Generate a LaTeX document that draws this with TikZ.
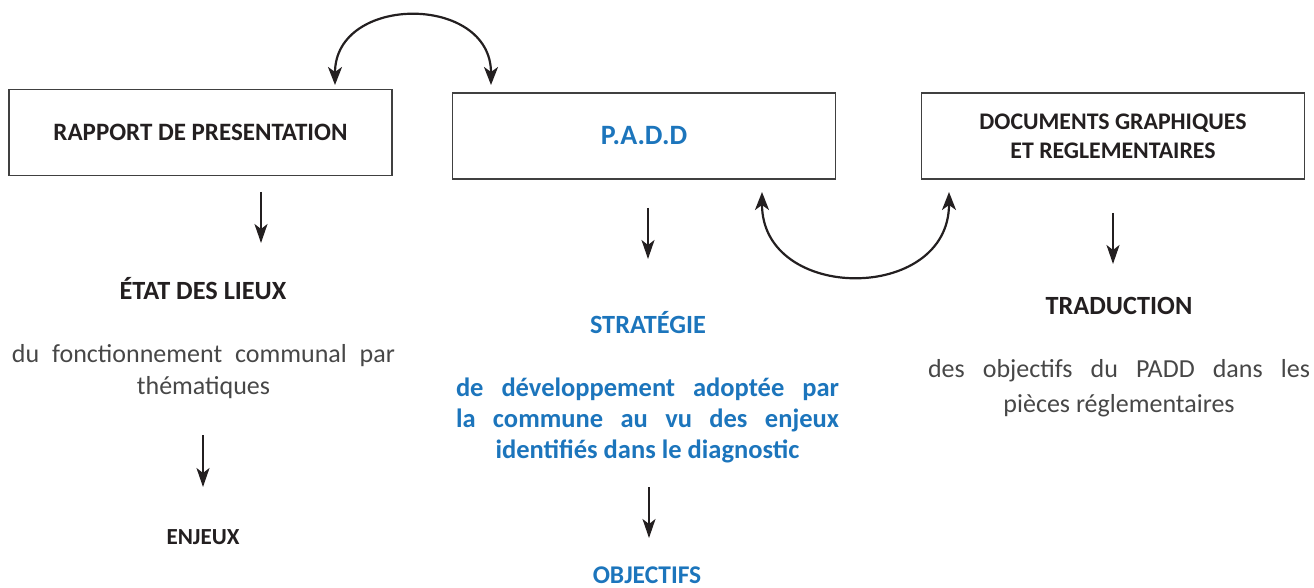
\documentclass[tikz,border=0pt]{standalone}
\usepackage{fontspec}
\setmainfont{Carlito}
\usetikzlibrary{arrows.meta}
\definecolor{padblue}{HTML}{1C75BC}
\definecolor{ink}{HTML}{231F20}
\definecolor{bodygray}{HTML}{474747}
\definecolor{boxline}{HTML}{404040}
\tikzset{
  box/.style={draw=boxline, line width=1.3pt, minimum width=383pt, minimum height=86pt, inner sep=0pt, align=center, text=ink},
  head/.style={anchor=base, text=ink, font=\bfseries\fontsize{26.3}{30}\selectfont, inner sep=0pt},
  bluehead/.style={head, text=padblue},
  bodytxt/.style={anchor=base, text=bodygray, inner sep=0pt, font=\fontsize{26}{30}\selectfont},
  bluetxt/.style={anchor=base, text=padblue, inner sep=0pt, font=\bfseries\fontsize{26.5}{30}\selectfont},
  downarrow/.style={draw=ink, line width=1.8pt, -{Stealth[length=19pt, width=13pt, inset=5pt]}},
  bendarrow/.style={draw=ink, line width=2.2pt, {Stealth[length=18pt, width=14pt, inset=5pt]}-{Stealth[length=18pt, width=14pt, inset=5pt]}}
}
\begin{document}
\begin{tikzpicture}[x=1pt, y=-1pt]
\useasboundingbox (0,0) rectangle (1314,588);
% boxes
\node[box, font=\bfseries\fontsize{25}{29}\selectfont] (rp) at (200.5,132.5) {RAPPORT DE PRESENTATION};
\node[box, text=padblue, font=\bfseries\fontsize{28}{32}\selectfont] (padd) at (644,136) {P.A.D.D};
\node[box, font=\bfseries\fontsize{23.8}{29}\selectfont] (docs) at (1113,136) {DOCUMENTS GRAPHIQUES\\ET REGLEMENTAIRES};
% left column
\node[head] (etat) at (203,299) {ÉTAT DES LIEUX};
\node[bodytxt] (etatA) at (203.5,362) {\makebox[383pt][s]{du fonctionnement communal par}};
\node[bodytxt] (etatB) at (203.5,394) {thématiques};
\node[head, font=\bfseries\fontsize{23}{28}\selectfont] (enjeux) at (203,544) {ENJEUX};
% middle column
\node[bluehead] (strat) at (648,333) {STRATÉGIE};
\node[bluetxt] (stratA) at (647.5,396) {\makebox[383pt][s]{de développement adoptée par}};
\node[bluetxt] (stratB) at (647.5,427) {\makebox[383pt][s]{la commune au vu des enjeux}};
\node[bluetxt] (stratC) at (647.5,458) {identifiés dans le diagnostic};
\node[bluehead, font=\bfseries\fontsize{25.5}{28}\selectfont] (obj) at (647,583) {OBJECTIFS};
% right column
\node[head] (trad) at (1119,314) {TRADUCTION};
\node[bodytxt] (tradA) at (1119,377) {\makebox[382pt][s]{des objectifs du PADD dans les}};
\node[bodytxt] (tradB) at (1119,412) {pièces réglementaires};
% arrow end points
\coordinate (d1s) at (261,192); \coordinate (d1e) at (261,243);
\coordinate (d2s) at (648,208); \coordinate (d2e) at (648,259);
\coordinate (d3s) at (1113,213); \coordinate (d3e) at (1113,264);
\coordinate (d4s) at (203,435); \coordinate (d4e) at (203,487);
\coordinate (d5s) at (649,487); \coordinate (d5e) at (649,538);
\coordinate (t1) at (335,85); \coordinate (t2) at (491,85);
\coordinate (b1) at (762,192); \coordinate (b2) at (949,192);
% straight arrows
\draw[downarrow] (d1s) -- (d1e);
\draw[downarrow] (d2s) -- (d2e);
\draw[downarrow] (d3s) -- (d3e);
\draw[downarrow] (d4s) -- (d4e);
\draw[downarrow] (d5s) -- (d5e);
% bent double arrows
\draw[bendarrow] (t1) .. controls (335,-6) and (491,-6) .. (t2);
\draw[bendarrow] (b1) .. controls (762,303) and (949,303) .. (b2);
\end{tikzpicture}
\end{document}
